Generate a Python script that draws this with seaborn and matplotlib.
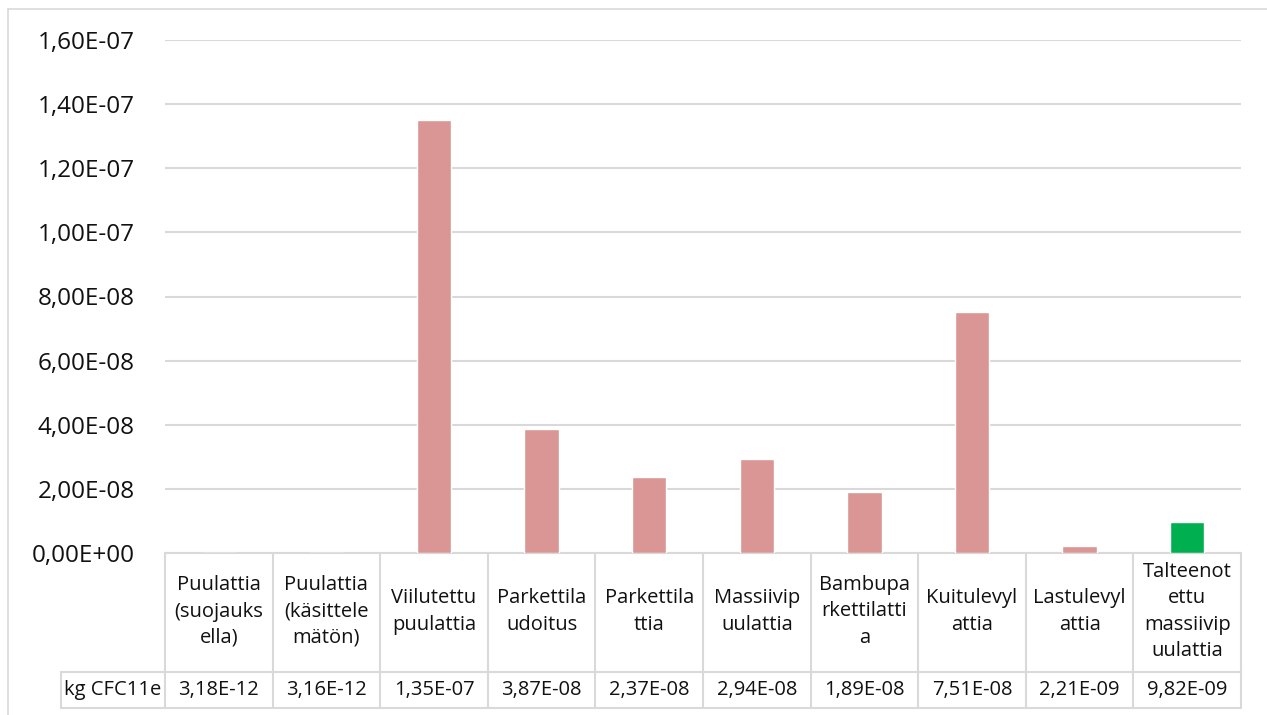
import matplotlib
matplotlib.use("Agg")
import matplotlib.pyplot as plt
import matplotlib.transforms as mtransforms
from matplotlib.lines import Line2D
import seaborn as sns
import pandas as pd

# ======================
# Data
# ======================
categories = [
    "Puulattia\n(suojauks\nella)",
    "Puulattia\n(käsittele\nmätön)",
    "Viilutettu\npuulattia",
    "Parkettila\nudoitus",
    "Parkettila\nttia",
    "Massiivip\nuulattia",
    "Bambupa\nrkettilatti\na",
    "Kuitulevyl\nattia",
    "Lastulevyl\nattia",
    "Talteenot\nettu\nmassiivip\nuulattia",
]
values = [3.18e-12, 3.16e-12, 1.35e-07, 3.87e-08, 2.37e-08,
          2.94e-08, 1.89e-08, 7.51e-08, 2.21e-09, 9.82e-09]
row_label = "kg CFC11e"
y_ticks = [0, 2e-8, 4e-8, 6e-8, 8e-8, 1e-7, 1.2e-7, 1.4e-7, 1.6e-7]

PINK = "#D99694"
GREEN = "#00B050"
GRID = "#D9D9D9"
bar_colors = [PINK] * 9 + [GREEN]

W, H = 1267, 715
FONT = ["Open Sans", "DejaVu Sans"]

sns.set_style("white")
plt.rcParams["font.family"] = FONT

df = pd.DataFrame({"cat": categories, "val": values})

fig = plt.figure(figsize=(W / 100, H / 100), dpi=100)

# overlay in pixel coordinates for frame and table
over = fig.add_axes([0, 0, 1, 1], zorder=0)
over.set_xlim(0, W)
over.set_ylim(H, 0)
over.axis("off")

# main bar axes
x0, x1, y_top, y_zero = 165, 1241, 40, 553
ax = fig.add_axes([x0 / W, (H - y_zero) / H, (x1 - x0) / W, (y_zero - y_top) / H], zorder=1)
ax.patch.set_alpha(0)

sns.barplot(data=df, x="cat", y="val", hue="cat", palette=bar_colors,
            width=0.32, legend=False, saturation=1, ax=ax)

ax.set_xlim(-0.5, len(categories) - 0.5)
ax.set_ylim(0, 1.6e-7)
ax.set_yticks(y_ticks)
ax.set_yticklabels([f"{t:.2E}".replace(".", ",") for t in y_ticks], fontsize=17.5, color="#111111")
ax.tick_params(axis="y", length=0, pad=22)
ax.set_xticks([])
ax.set_xlabel("")
ax.set_ylabel("")
for s in ax.spines.values():
    s.set_visible(False)
ax.yaxis.grid(True, color=GRID, linewidth=1.5)
ax.set_axisbelow(True)

# outer frame (top and left visible)
over.add_line(Line2D([8, W], [9, 9], color=GRID, lw=1.2))
over.add_line(Line2D([8, 8], [9, H], color=GRID, lw=1.2))

# ======================
# Data table under the chart
# ======================
tr = mtransforms.blended_transform_factory(ax.transData, over.transData)
row_head_top, row_val_top, row_bottom = 553, 672, 708
n = len(categories)
lw = 1.5

over.add_line(Line2D([-0.5, n - 0.5], [row_head_top] * 2, color=GRID, lw=lw, transform=tr))
over.add_line(Line2D([61, x1], [row_val_top] * 2, color=GRID, lw=lw))
over.add_line(Line2D([61, x1], [row_bottom] * 2, color=GRID, lw=lw))
over.add_line(Line2D([61, 61], [row_val_top, row_bottom], color=GRID, lw=lw))
for i in range(n + 1):
    over.add_line(Line2D([i - 0.5, i - 0.5], [row_head_top, row_bottom], color=GRID, lw=lw, transform=tr))

for i, (c, v) in enumerate(zip(categories, values)):
    over.text(i, (row_head_top + row_val_top) / 2 - 1, c, transform=tr, ha="center", va="center",
              fontsize=14.5, linespacing=1.42, color="#111111")
    over.text(i, (row_val_top + row_bottom) / 2, f"{v:.2E}".replace(".", ","), transform=tr,
              ha="center", va="center", fontsize=14.5, color="#111111")

over.text((61 + x0) / 2, (row_val_top + row_bottom) / 2, row_label, ha="center", va="center",
          fontsize=14.5, color="#111111")

fig.savefig("out.png", dpi=100)
